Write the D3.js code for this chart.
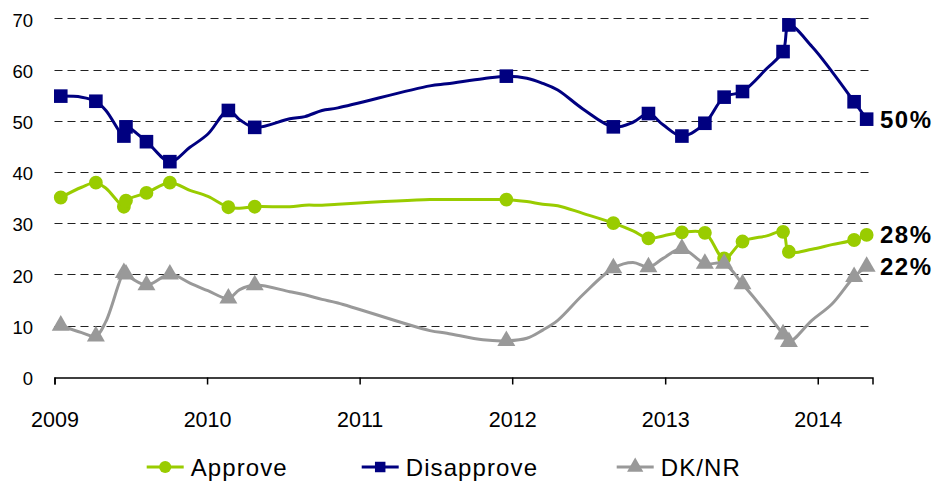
<!DOCTYPE html>
<html>
<head>
<meta charset="utf-8">
<script src="https://cdn.jsdelivr.net/npm/d3@7"></script>
<style>
  body { margin: 0; background: #fff; }
  svg { display: block; font-family: Arial, 'Liberation Sans', sans-serif; }
</style>
</head>
<body>
<div id="chart"></div>
<script>
// Survey dates (all points); only some carry a marker
const dates = [
  '2009-01-16', '2009-03-07', '2009-04-10', '2009-05-04', '2009-06-16', '2009-06-21',
  '2009-08-09', '2009-10-04', '2009-11-21', '2010-01-03', '2010-02-21', '2010-03-20',
  '2010-04-25', '2010-07-18', '2010-08-23', '2010-10-03', '2010-11-10', '2011-06-18',
  '2011-07-29', '2011-10-23', '2011-12-18', '2012-02-05', '2012-03-14', '2012-04-19',
  '2012-06-18', '2012-08-30', '2012-10-16', '2012-11-22', '2012-12-27', '2013-02-10',
  '2013-04-06', '2013-05-22', '2013-07-05', '2013-09-01', '2013-10-10', '2013-10-24',
  '2013-12-18', '2014-02-04', '2014-03-29', '2014-04-28'
];
const marked = [
  1, 0, 1, 0, 1, 1, 1, 1, 0, 0, 1, 0, 1, 0, 0, 0, 0, 0, 0, 0,
  1, 0, 0, 0, 0, 1, 0, 1, 0, 1, 1, 1, 1, 0, 1, 1, 0, 0, 1, 1
];

const approve = [
  35.0, 37.0, 37.9, 36.8, 33.2, 34.4, 35.9, 37.9, 36.4, 35.2, 33.1, 32.9,
  33.2, 33.2, 33.5, 33.5, 33.7, 34.6, 34.6, 34.6, 34.6, 34.2, 33.7, 33.4,
  31.9, 30.0, 28.5, 27.0, 27.5, 28.2, 28.1, 23.1, 26.4, 27.5, 28.3, 24.4,
  24.9, 25.8, 26.7, 27.7
];
const disapprove = [
  54.8, 54.6, 53.8, 52.0, 47.0, 48.8, 45.9, 42.0, 44.8, 47.4, 52.0, 50.2,
  48.7, 50.4, 50.8, 52.0, 52.5, 56.8, 57.2, 58.2, 58.7, 58.3, 57.3, 56.0,
  52.3, 48.8, 49.7, 51.4, 49.2, 47.0, 49.5, 54.6, 55.7, 60.2, 63.5, 68.7,
  64.5, 59.6, 53.7, 50.3
];
const dknr = [
  10.0, 8.6, 7.9, 10.8, 20.3, 20.0, 17.9, 20.0, 18.3, 16.8, 15.3, 17.0,
  17.9, 16.6, 16.0, 15.1, 14.4, 9.0, 8.5, 7.2, 7.0, 7.5, 9.1, 11.0,
  16.0, 21.2, 22.3, 21.4, 23.1, 25.0, 22.1, 22.1, 18.1, 12.4, 8.3, 6.8,
  11.0, 14.2, 19.5, 21.5
];

const seriesNames = ['Approve', 'Disapprove', 'DK/NR'];
const endLabels = ['28%', '50%', '22%'];
const yTicks = [0, 10, 20, 30, 40, 50, 60, 70];
const xTickYears = ['2009', '2010', '2011', '2012', '2013', '2014'];

const colors = ['#99CC00', '#000080', '#999999'];
const symbols = [d3.symbolCircle, d3.symbolSquare, d3.symbolTriangle];

const width = 938, height = 482;
const parse = d3.timeParse('%Y-%m-%d');

const svg = d3.select('#chart').append('svg')
  .attr('width', width)
  .attr('height', height);

// Escalas
const x = d3.scaleTime()
  .domain([parse('2009-01-01'), parse('2014-05-12')])
  .range([54.5, 872.5]);

const y = d3.scaleLinear()
  .domain([0, 70])
  .range([376.7, 18.3]);

// Grade tracejada
svg.append('g')
  .selectAll('line')
  .data(yTicks.filter(d => d > 0))
  .enter()
  .append('line')
  .attr('x1', x.range()[0])
  .attr('x2', x.range()[1])
  .attr('y1', d => Math.round(y(d)) + 0.5)
  .attr('y2', d => Math.round(y(d)) + 0.5)
  .attr('stroke', '#222')
  .attr('stroke-width', 1)
  .attr('stroke-dasharray', '8,5');

// Eixo Y (só rótulos)
const yAxis = svg.append('g')
  .attr('transform', 'translate(40,0)')
  .call(d3.axisLeft(y).tickValues(yTicks).tickSize(0).tickPadding(7));
yAxis.select('.domain').remove();
yAxis.selectAll('text')
  .attr('dy', '0.42em')
  .style('font-size', '18.5px')
  .style('font-family', "Arial, 'Liberation Sans', sans-serif")
  .attr('fill', '#000');

// Eixo X
const xAxis = svg.append('g')
  .attr('transform', `translate(0,${Math.round(y(0)) + 0.5})`)
  .call(d3.axisBottom(x)
    .tickValues(xTickYears.map(d => parse(d + '-01-01')))
    .tickFormat(d3.timeFormat('%Y'))
    .tickSizeOuter(0)
    .tickSize(7)
    .tickPadding(27));
xAxis.select('.domain').attr('stroke', '#000').attr('stroke-width', 1.5);
xAxis.selectAll('.tick line').attr('stroke', '#000').attr('stroke-width', 1.5);
xAxis.selectAll('text')
  .style('font-size', '21.5px')
  .style('font-family', "Arial, 'Liberation Sans', sans-serif")
  .attr('fill', '#000');

// Séries
const seriesValues = [approve, disapprove, dknr];
const series = seriesValues.map((vals, i) => ({
  name: seriesNames[i],
  color: colors[i],
  symbol: symbols[i],
  points: vals.map((v, j) => ({ date: parse(dates[j]), value: v, marked: marked[j] }))
}));

const line = d3.line()
  .x(d => x(d.date))
  .y(d => y(d.value))
  .curve(d3.curveCatmullRom.alpha(0.5));

const markerSize = [150, 185, 140];

series.forEach((s, i) => {
  const g = svg.append('g');
  g.append('path')
    .datum(s.points)
    .attr('fill', 'none')
    .attr('stroke', s.color)
    .attr('stroke-width', 3)
    .attr('stroke-linejoin', 'round')
    .attr('d', line);

  g.selectAll('.mark')
    .data(s.points.filter(d => d.marked))
    .enter()
    .append('path')
    .attr('class', 'mark')
    .attr('transform', d => `translate(${x(d.date)},${y(d.value)})`)
    .attr('d', d3.symbol().type(s.symbol).size(markerSize[i]))
    .attr('fill', s.color);

  // Rótulo final
  const last = s.points[s.points.length - 1];
  svg.append('text')
    .attr('x', 880)
    .attr('y', y(last.value) + 8.5)
    .style('font-size', '24px')
    .style('font-weight', 'bold')
    .style('letter-spacing', '1.5px')
    .attr('fill', '#000')
    .text(endLabels[i]);
});

// Legenda (subida um pouco para as descendentes não serem cortadas)
const legendX = [146.7, 361.7, 616.7];
const legend = svg.append('g').attr('transform', 'translate(0,467)');
series.forEach((s, i) => {
  const g = legend.append('g').attr('transform', `translate(${legendX[i]},0)`);
  g.append('line')
    .attr('x1', 0).attr('x2', 37)
    .attr('stroke', s.color)
    .attr('stroke-width', 3);
  g.append('path')
    .attr('transform', 'translate(18.5,0)')
    .attr('d', d3.symbol().type(s.symbol).size(i === 1 ? 110 : 115))
    .attr('fill', s.color);
  g.append('text')
    .attr('x', 44)
    .attr('y', 8.5)
    .style('font-size', '24px')
    .style('letter-spacing', '1.1px')
    .attr('fill', '#000')
    .text(s.name);
});
</script>
</body>
</html>
